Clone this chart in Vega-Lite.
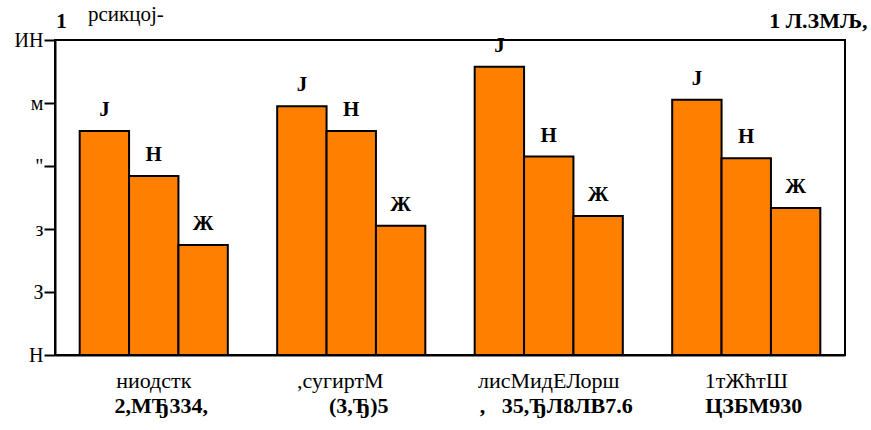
{
  "$schema": "https://vega.github.io/schema/vega-lite/v6.json",
  "width": 790,
  "height": 315,
  "autosize": {"type": "none"},
  "padding": {"left": 55, "top": 40, "right": 26, "bottom": 75},
  "background": "white",
  "config": {
    "view": {"stroke": "#000", "strokeWidth": 2},
    "font": "Liberation Serif",
    "axis": {"labelFont": "Liberation Serif", "titleFont": "Liberation Serif", "labelColor": "#000", "titleColor": "#000", "domainColor": "#000", "tickColor": "#000", "grid": false}
  },
  "title": {"text": "рсикцој-", "anchor": "start", "frame": "group", "dx": 33, "offset": -33, "baseline": "alphabetic", "font": "Liberation Serif", "fontSize": 21, "fontWeight": "normal", "color": "#000"},
  "data": {"values": [
    {"grp": "ниодстк", "grp2": "2,МЂ334,", "series": "J", "value": 7.11},
    {"grp": "ниодстк", "grp2": "2,МЂ334,", "series": "Н", "value": 5.68},
    {"grp": "ниодстк", "grp2": "2,МЂ334,", "series": "Ж", "value": 3.49},
    {"grp": ",сугиртМ", "grp2": "(3,Ђ)5", "series": "J", "value": 7.90},
    {"grp": ",сугиртМ", "grp2": "(3,Ђ)5", "series": "Н", "value": 7.11},
    {"grp": ",сугиртМ", "grp2": "(3,Ђ)5", "series": "Ж", "value": 4.10},
    {"grp": "лисМидЕЛорш", "grp2": ",\u00a0\u00a0\u00a035,ЂЛ8ЛВ7.6", "series": "J", "value": 9.15},
    {"grp": "лисМидЕЛорш", "grp2": ",\u00a0\u00a0\u00a035,ЂЛ8ЛВ7.6", "series": "Н", "value": 6.30},
    {"grp": "лисМидЕЛорш", "grp2": ",\u00a0\u00a0\u00a035,ЂЛ8ЛВ7.6", "series": "Ж", "value": 4.41},
    {"grp": "1тЖћтШ", "grp2": "ЦЗБМ930", "series": "J", "value": 8.10},
    {"grp": "1тЖћтШ", "grp2": "ЦЗБМ930", "series": "Н", "value": 6.25},
    {"grp": "1тЖћтШ", "grp2": "ЦЗБМ930", "series": "Ж", "value": 4.67}
  ]},
  "resolve": {"scale": {"x": "independent"}},
  "layer": [
    {
      "encoding": {
        "x": {"field": "grp", "type": "nominal", "sort": null,
          "scale": {"paddingInner": 0.25, "paddingOuter": 0.125},
          "axis": {"ticks": false, "domainWidth": 2, "labelFontSize": 22, "labelPadding": 15, "labelAngle": 0,
            "labelOffset": {"condition": {"test": "datum.value === ',сугиртМ'", "value": -11}, "value": 0},
            "title": "1 Л.ЗМЉ,", "titleFontWeight": "bold", "titleFontSize": 22, "titleX": 812, "titleY": -328, "titleAlign": "right", "titleBaseline": "alphabetic"}},
        "xOffset": {"field": "series", "type": "nominal", "sort": ["J", "Н", "Ж"], "scale": {"paddingInner": 0, "paddingOuter": 0}},
        "y": {"field": "value", "type": "quantitative", "scale": {"domain": [0, 10]},
          "axis": {"values": [0, 2, 4, 6, 8, 10], "labelExpr": "['Н','З','з','\"','м','ИН'][datum.value/2]", "tickSize": 11, "tickWidth": 2, "domainWidth": 2, "labelFontSize": 20, "labelPadding": 1,
            "title": "1", "titleAngle": 0, "titleFontWeight": "bold", "titleFontSize": 21, "titleX": 6, "titleY": -13, "titleAlign": "center", "titleBaseline": "alphabetic"}}
      },
      "layer": [
        {"mark": {"type": "bar", "fill": "#ff8000", "stroke": "#000", "strokeWidth": 2}},
        {"mark": {"type": "text", "fontWeight": "bold", "fontSize": 21, "baseline": "alphabetic", "dy": -15, "font": "Liberation Serif", "color": "#000"},
         "encoding": {"text": {"field": "series"}}}
      ]
    },
    {
      "mark": {"type": "point", "opacity": 0},
      "encoding": {
        "x": {"field": "grp2", "type": "nominal", "sort": null,
          "axis": {"orient": "bottom", "domain": false, "ticks": false, "labelFontWeight": "bold", "labelFontSize": 22, "labelPadding": 40, "labelOffset": 7, "labelAngle": 0, "title": null}}
      }
    }
  ]
}
